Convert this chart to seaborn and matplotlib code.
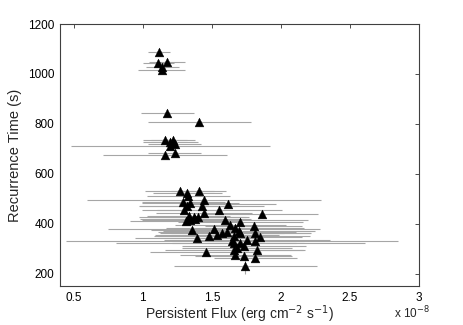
import matplotlib
matplotlib.use("Agg")
import matplotlib.pyplot as plt
import seaborn as sns
import pandas as pd

# persistent flux in units of 1e-8 erg cm^-2 s^-1, recurrence time in s
flux = [
    1.116, 1.177, 1.112, 1.140, 1.136,
    1.177, 1.410,
    1.160, 1.200, 1.220, 1.200, 1.230, 1.160, 1.230,
    1.266, 1.405, 1.321, 1.329, 1.293, 1.345, 1.442, 1.430, 1.615, 1.555,
    1.297, 1.442, 1.866, 1.333, 1.369, 1.398, 1.309, 1.345, 1.598, 1.707,
    1.634, 1.803, 1.670, 1.514, 1.357, 1.694, 1.815, 1.574, 1.610, 1.538,
    1.478, 1.394, 1.658, 1.755, 1.851, 1.647, 1.707, 1.815, 1.730, 1.658,
    1.454, 1.827, 1.670, 1.730, 1.815, 1.743, 1.658, 1.683, 1.321, 1.381,
    1.707,
]
rec_time = [
    1089, 1049, 1043, 1027, 1016,
    844, 808,
    735, 728, 737, 713, 718, 677, 683,
    529, 529, 523, 509, 485, 483, 496, 469, 480, 453,
    453, 443, 440, 432, 427, 427, 409, 416, 416, 405,
    396, 389, 383, 379, 376, 369, 363, 363, 365, 356,
    349, 343, 349, 336, 347, 329, 323, 329, 309, 293,
    285, 293, 276, 272, 263, 232, 323, 303, 469, 419,
    363,
]
flux_err = [
    0.08, 0.13, 0.11, 0.12, 0.17,
    0.19, 0.37,
    0.16, 0.20, 0.16, 0.72, 0.19, 0.45, 0.19,
    0.25, 0.20, 0.25, 0.30, 0.30, 0.35, 0.85, 0.45, 0.35, 0.45,
    0.30, 0.35, 0.40, 0.30, 0.40, 0.35, 0.40, 0.35, 0.60, 0.45,
    0.40, 0.35, 0.50, 0.77, 0.30, 0.55, 0.40, 0.45, 0.50, 0.45,
    0.40, 0.45, 0.55, 0.60, 0.30, 1.20, 0.90, 0.35, 0.45, 0.50,
    0.40, 0.35, 0.40, 0.35, 0.30, 0.52, 0.45, 0.40, 0.35, 0.40,
    0.50,
]
time_err = [0] * 59 + [35] + [0] * 5

x_ticks = [0.5, 1, 1.5, 2, 2.5, 3]
y_ticks = [200, 400, 600, 800, 1000, 1200]

df = pd.DataFrame({"flux": flux, "time": rec_time, "ferr": flux_err, "terr": time_err})

sns.set_style("white")
plt.rcParams["font.family"] = ["Liberation Sans", "DejaVu Sans"]

fig = plt.figure(figsize=(4.63, 3.25), dpi=100)
ax = fig.add_axes([0.1296, 0.12, 0.7754, 0.806])

ax.errorbar(df["flux"], df["time"], xerr=df["ferr"], yerr=df["terr"], fmt="none",
            ecolor="#a6a6a6", elinewidth=0.8, capsize=0, zorder=1)
sns.scatterplot(data=df, x="flux", y="time", marker="^", color="black", s=40,
                edgecolor="black", linewidth=0.3, ax=ax, zorder=2)

ax.set_xlim(0.4, 3.0)
ax.set_ylim(150, 1200)
ax.set_xticks(x_ticks)
ax.set_xticklabels(["0.5", "1", "1.5", "2", "2.5", "3"])
ax.set_yticks(y_ticks)
ax.tick_params(direction="in", length=3, width=0.6, labelsize=8.5, colors="#303030",
               top=True, right=True, labelcolor="black", pad=4)
for side in ax.spines.values():
    side.set_color("#404040")
    side.set_linewidth(0.8)

ax.set_xlabel("Persistent Flux (erg cm$^{-2}$ s$^{-1}$)", fontsize=10, labelpad=0)
ax.set_ylabel("Recurrence Time (s)", fontsize=10.5, labelpad=4)
fig.text(0.852, 0.02, r"x 10$^{-8}$", fontsize=8.5)

fig.savefig("out.png", dpi=100, facecolor="white")
